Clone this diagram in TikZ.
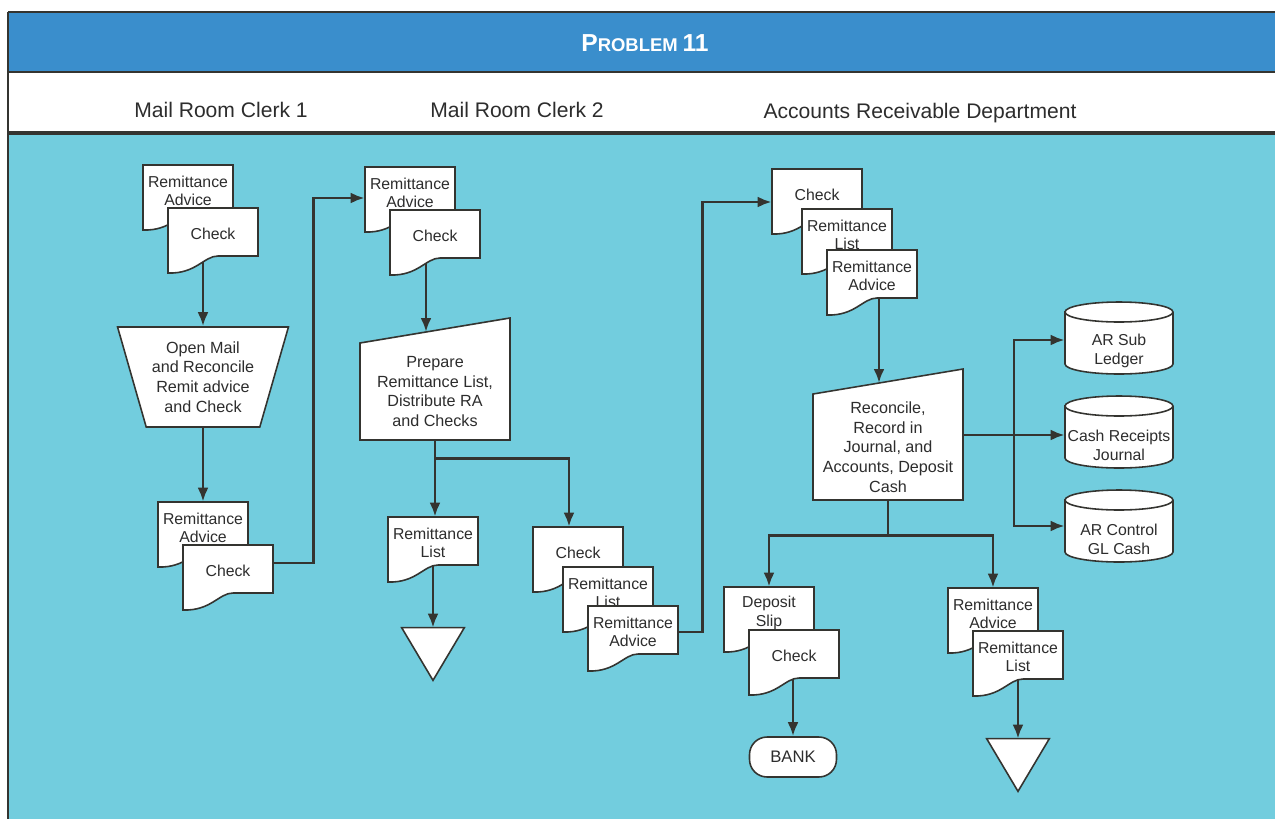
\documentclass[tikz,border=0pt]{standalone}
\usepackage{fontspec}
\setmainfont{Liberation Sans}
\usetikzlibrary{shapes, arrows.meta, positioning, calc}

\definecolor{bandblue}{RGB}{58,142,204}
\definecolor{flowcyan}{RGB}{114,205,222}
\definecolor{inkline}{RGB}{52,52,48}
\definecolor{inktext}{RGB}{45,45,45}

\pgfdeclarelayer{paper}
\pgfdeclarelayer{wires}
\pgfsetlayers{paper,wires,main}

% document symbol: name, top left corner, text
\newcommand{\docbox}[3]{%
  \filldraw[docline] (#2) -- ($(#2)+(90,0)$) -- ($(#2)+(90,48)$) -- ($(#2)+(50,48)$)
    .. controls ($(#2)+(36,48)$) and ($(#2)+(28,66)$) .. ($(#2)+(0,65)$) -- cycle;
  \node[doctext] (#1) at ($(#2)+(45,26)$) {#3};
}

% manual input symbol: name, south west corner, left height, text
\newcommand{\manualbox}[4]{%
  \filldraw[docline] (#2) -- ($(#2)+(150,0)$) -- ($(#2)+(150,-#3-25)$) -- ($(#2)+(0,-#3)$) -- cycle;
  \node[proctext, minimum height=#3*0.02cm] (#1) at ($(#2)+(75,-#3/2)$) {#4};
  \coordinate (#1-in) at ($(#2)+(66,-#3-11)$);
}

% disk / ledger symbol: name, centre, text
\newcommand{\ledgerbox}[3]{%
  \filldraw[docline] ($(#2)+(-54,-26)$) -- ($(#2)+(-54,26)$)
    arc[start angle=180, end angle=360, x radius=1.08cm, y radius=0.2cm]
    -- ($(#2)+(54,-26)$)
    arc[start angle=0, end angle=180, x radius=1.08cm, y radius=0.2cm] -- cycle;
  \draw[docline, fill=none] ($(#2)+(-54,-26)$)
    arc[start angle=180, end angle=360, x radius=1.08cm, y radius=0.2cm];
  \node[ledgertext] (#1) at ($(#2)+(0,13)$) {#3};
}

\begin{document}
\begin{tikzpicture}[x=0.02cm, y=-0.02cm, >=Latex]
    % Styles
    \tikzstyle{docline} = [draw=inkline, line width=0.9pt, fill=white]
    \tikzstyle{doctext} = [inner sep=0pt, minimum width=1.8cm, minimum height=1.04cm, align=center, text=inktext, font=\fontsize{9}{10.4}\selectfont]
    \tikzstyle{proctext} = [inner sep=0pt, minimum width=3cm, align=center, text=inktext, font=\fontsize{9.2}{11.2}\selectfont]
    \tikzstyle{manualop} = [trapezium, trapezium stretches, shape border rotate=180, trapezium angle=70, minimum width=3.42cm, minimum height=2cm, inner sep=0pt, docline, align=center, text=inktext, font=\fontsize{9.2}{11.2}\selectfont]
    \tikzstyle{ledgertext} = [inner sep=0pt, minimum width=2.16cm, align=center, text=inktext, font=\fontsize{9}{10.8}\selectfont]
    \tikzstyle{offline} = [minimum width=1.24cm, minimum height=1.04cm, inner sep=0pt]
    \tikzstyle{terminal} = [rectangle, rounded corners=10pt, docline, minimum width=1.74cm, minimum height=0.8cm, text=inktext, font=\fontsize{9.5}{11}\selectfont]
    \tikzstyle{arrow} = [draw=inkline, line width=1.6pt, -{Latex[length=2.8mm, width=2.2mm]}]
    \tikzstyle{wire} = [draw=inkline, line width=1.6pt]
    \tikzstyle{lane} = [text=inktext, font=\fontsize{12}{14}\selectfont]

    \useasboundingbox (0,0) rectangle (1275,819);

    % Page bands
    \begin{pgfonlayer}{paper}
        \fill[white] (0,0) rectangle (1275,819);
        \fill[bandblue] (8,12) rectangle (1275,72);
        \fill[flowcyan] (8,133) rectangle (1275,819);
        \draw[inkline, line width=1.2pt] (8,12) -- (1275,12);
        \draw[inkline, line width=1.2pt] (8,72) -- (1275,72);
        \draw[inkline, line width=2pt] (8,133) -- (1275,133);
        \draw[inkline, line width=0.6pt] (8,12) -- (8,819);
    \end{pgfonlayer}

    % Headings
    \node[text=white, font=\bfseries] (title) at (645,43) {{\fontsize{14}{16}\selectfont P}{\fontsize{10.5}{12}\selectfont ROBLEM} {\fontsize{14}{16}\selectfont 11}};
    \node[lane] (clerk1) at (221,110) {Mail Room Clerk 1};
    \node[lane] (clerk2) at (517,110) {Mail Room Clerk 2};
    \node[lane] (ardept) at (920,113) {Accounts Receivable Department};

    % Mail Room Clerk 1
    \docbox{ra1}{143,165}{Remittance\\Advice}
    \docbox{chk1}{168,208}{Check}
    \node[manualop] (open1) at (203,377) {Open Mail\\and Reconcile\\Remit advice\\and Check};
    \docbox{ra1b}{158,502}{Remittance\\Advice}
    \docbox{chk1b}{183,545}{Check}

    % Mail Room Clerk 2
    \docbox{ra2}{365,167}{Remittance\\Advice}
    \docbox{chk2}{390,210}{Check}
    \manualbox{prep2}{360,440}{97}{Prepare\\Remittance List,\\Distribute RA\\and Checks}
    \docbox{rl2}{388,517}{Remittance\\List}
    \node[offline] (file2) at (433,654) {};
    \filldraw[docline] (file2.north west) -- (file2.north east) -- (file2.south) -- cycle;
    \docbox{chk2b}{533,527}{Check}
    \docbox{rl2b}{563,567}{Remittance\\List}
    \docbox{ra2b}{588,606}{Remittance\\Advice}

    % Accounts Receivable
    \docbox{chk3}{772,169}{Check}
    \docbox{rl3}{802,209}{Remittance\\List}
    \docbox{ra3}{827,250}{Remittance\\Advice}
    \manualbox{rec3}{813,500}{106}{Reconcile,\\Record in\\Journal, and\\Accounts, Deposit\\Cash}
    \ledgerbox{subl}{1119,338}{AR Sub\\Ledger}
    \ledgerbox{crj}{1119,432}{Cash Receipts\\Journal}
    \ledgerbox{glc}{1119,526}{AR Control\\GL Cash}
    \docbox{dep3}{724,587}{Deposit\\Slip}
    \docbox{chk3b}{749,630}{Check}
    \node[terminal] (bank) at (793,757) {BANK};
    \docbox{ra3b}{948,588}{Remittance\\Advice}
    \docbox{rl3b}{973,631}{Remittance\\List}
    \node[offline] (file3) at (1018,765) {};
    \filldraw[docline] (file3.north west) -- (file3.north east) -- (file3.south) -- cycle;

    % Flow lines
    \begin{pgfonlayer}{wires}
        \draw[arrow] (open1.north |- chk1.center) -- (open1.north);
        \draw[arrow] (open1.south) -- (open1.south |- ra1b.north);
        \draw[arrow] ($(chk1b.east)+(0,-8)$) -- ++(40,0) |- ($(ra2.west)+(0,5)$);
        \draw[arrow] (prep2-in |- chk2.center) -- (prep2-in);
        \draw[arrow] (prep2.south) -- (prep2.south |- rl2.north);
        \draw[arrow] (prep2.south) -- ++(0,18) -| ($(chk2b.north)+(-9,0)$);
        \draw[arrow] (file2.north |- rl2.center) -- (file2.north);
        \draw[arrow] (ra2b.east) -- ++(24,0) |- ($(chk3.west)+(0,7)$);
        \draw[arrow] (rec3-in |- ra3.center) -- (rec3-in);
        \draw[arrow] ($(rec3.east |- crj.west)+(0,-10)$) -- ($(crj.west)+(0,-10)$);
        \coordinate (fork3) at ($(rec3.east |- crj.west)!0.5!(crj.west)+(0,-10)$);
        \draw[arrow] (fork3) |- ($(subl.west)+(0,-11)$);
        \draw[arrow] (fork3) |- ($(glc.west)+(0,-13)$);
        \draw[wire] (rec3.south) -- ++(0,35) coordinate (fork4);
        \draw[arrow] (fork4) -| (dep3.north);
        \draw[arrow] (fork4) -| (ra3b.north);
        \draw[arrow] (bank.north |- chk3b.center) -- (bank.north);
        \draw[arrow] (file3.north |- rl3b.center) -- (file3.north);
    \end{pgfonlayer}
\end{tikzpicture}
\end{document}
